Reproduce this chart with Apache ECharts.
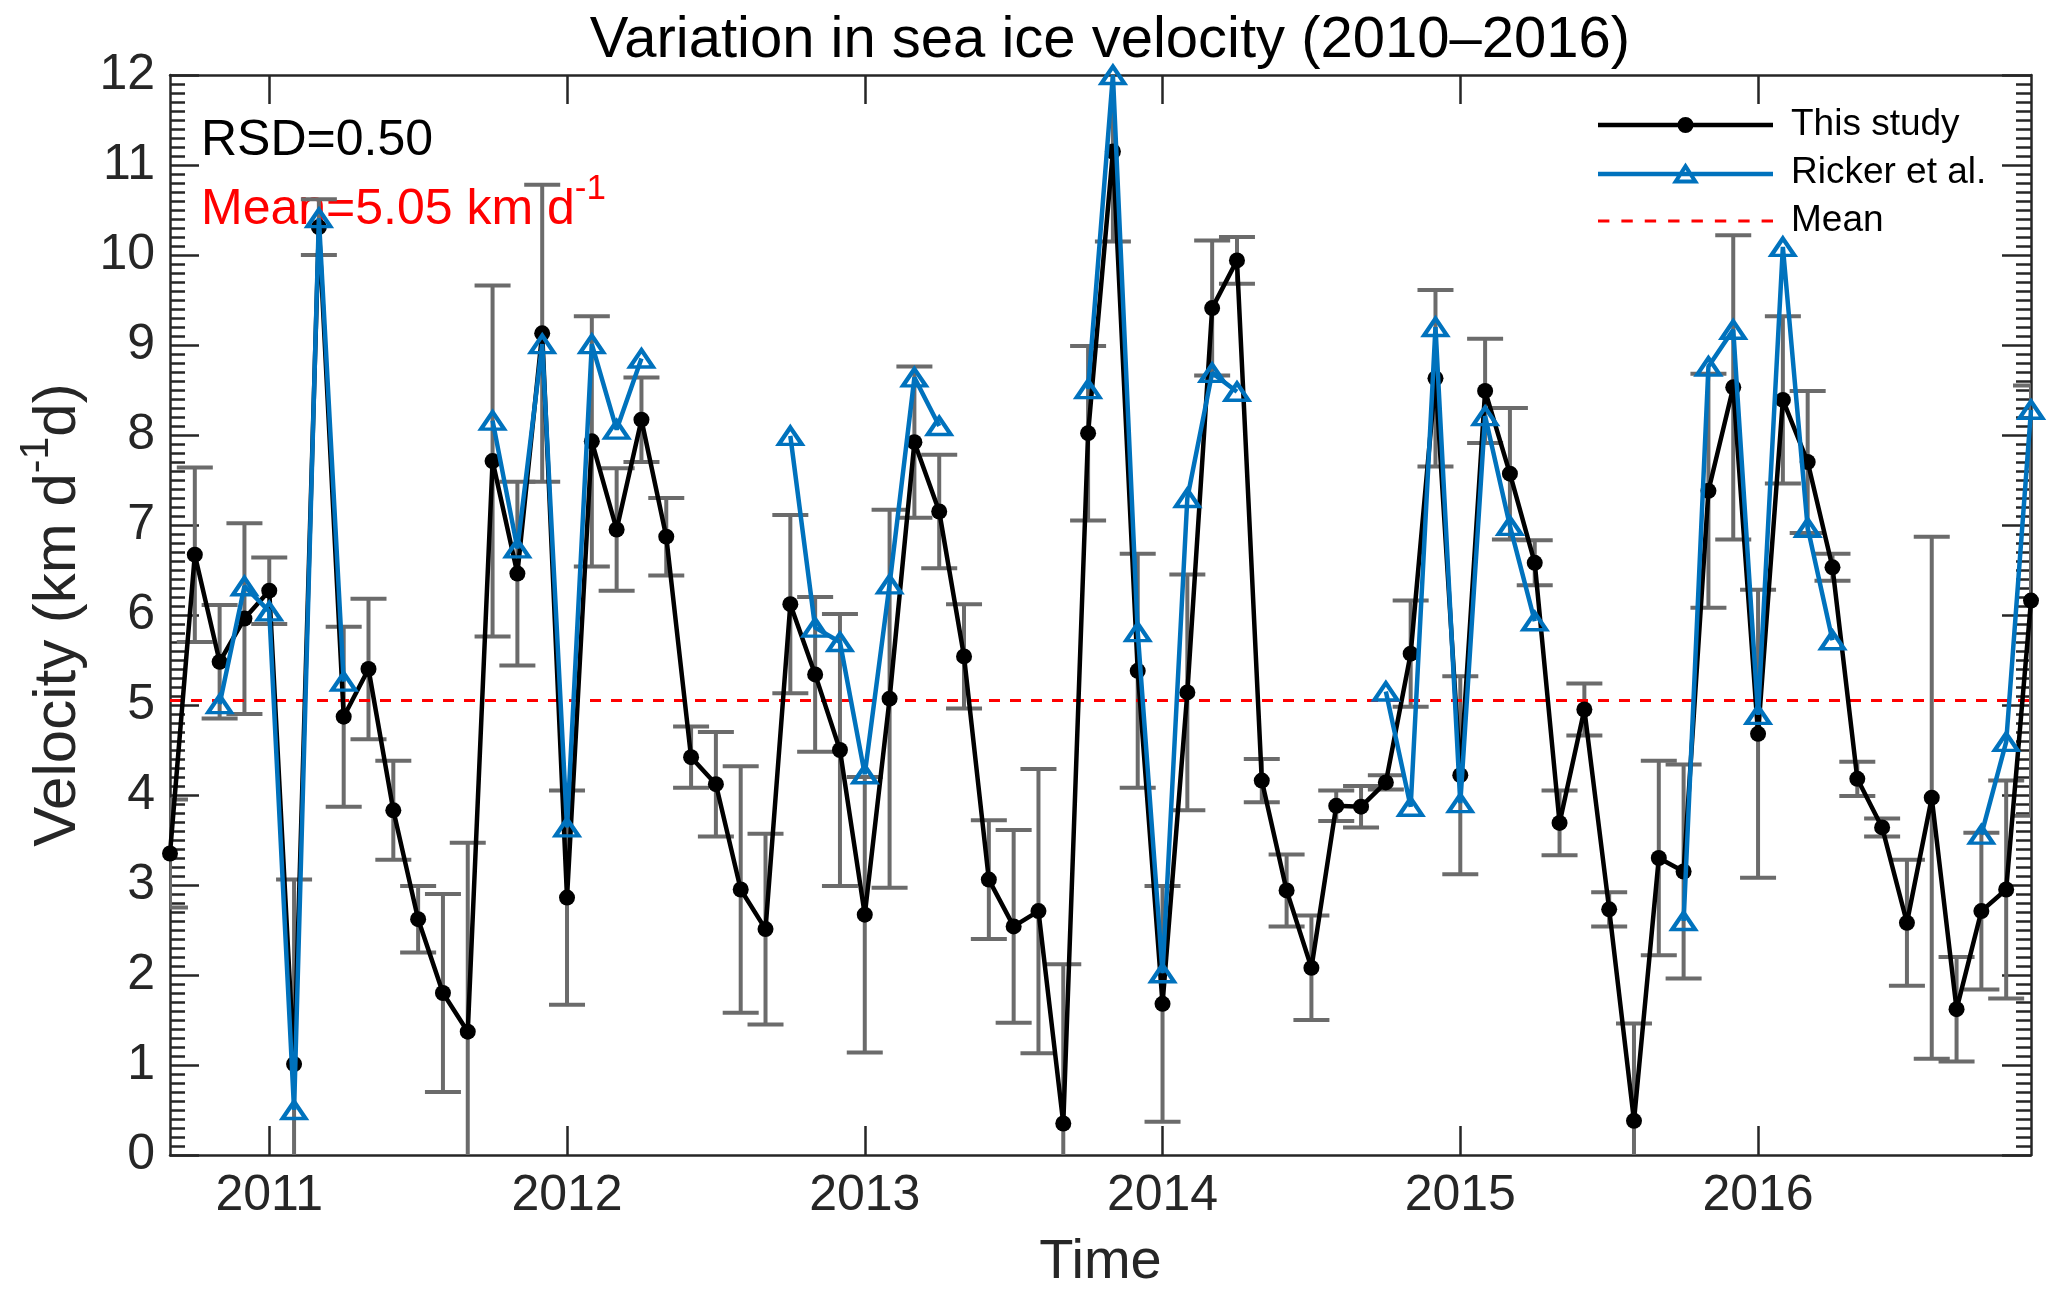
<!DOCTYPE html>
<html>
<head>
<meta charset="utf-8">
<script src="https://cdn.jsdelivr.net/npm/echarts@6/dist/echarts.min.js"></script>
<style>
html,body{margin:0;padding:0;background:#ffffff;}
#chart{width:2067px;height:1302px;}
</style>
</head>
<body>
<div id="chart"></div>
<script>
// ---------------- data ----------------
const months = [
 '2010-09','2010-10','2010-11','2010-12',
 '2011-01','2011-02','2011-03','2011-04','2011-05','2011-06','2011-07','2011-08','2011-09','2011-10','2011-11','2011-12',
 '2012-01','2012-02','2012-03','2012-04','2012-05','2012-06','2012-07','2012-08','2012-09','2012-10','2012-11','2012-12',
 '2013-01','2013-02','2013-03','2013-04','2013-05','2013-06','2013-07','2013-08','2013-09','2013-10','2013-11','2013-12',
 '2014-01','2014-02','2014-03','2014-04','2014-05','2014-06','2014-07','2014-08','2014-09','2014-10','2014-11','2014-12',
 '2015-01','2015-02','2015-03','2015-04','2015-05','2015-06','2015-07','2015-08','2015-09','2015-10','2015-11','2015-12',
 '2016-01','2016-02','2016-03','2016-04','2016-05','2016-06','2016-07','2016-08','2016-09','2016-10','2016-11','2016-12'
];
const thisStudy = [
 3.35,6.67,5.48,5.96,
 6.27,1.01,10.31,4.87,5.40,3.83,2.62,1.80,1.37,7.71,6.46,9.13,
 2.86,7.93,6.95,8.17,6.87,4.42,4.12,2.95,2.51,6.12,5.34,4.50,
 2.67,5.07,7.92,7.15,5.54,3.06,2.54,2.71,0.35,8.02,11.15,5.38,
 1.68,5.14,9.41,9.94,4.16,2.94,2.08,3.88,3.87,4.14,5.57,8.63,
 4.22,8.49,7.57,6.58,3.69,4.95,2.73,0.38,3.30,3.15,7.38,8.53,
 4.68,8.39,7.70,6.53,4.18,3.64,2.58,3.97,1.62,2.71,2.95,6.16
];
const thisStudyErr = [
 0.60,0.97,0.63,1.06,
 0.37,2.05,0.31,1.00,0.78,0.55,0.37,1.10,2.10,1.95,1.02,1.65,
 1.19,1.39,0.68,0.47,0.43,0.34,0.58,1.37,1.06,0.99,0.86,1.51,
 1.53,2.10,0.84,0.63,0.58,0.66,1.07,1.58,1.77,0.97,1.00,1.30,
 1.31,1.31,0.75,0.26,0.24,0.40,0.58,0.17,0.23,0.08,0.59,0.98,
 1.10,0.58,0.73,0.25,0.36,0.29,0.19,1.08,1.08,1.19,1.30,1.69,
 1.60,0.93,0.79,0.15,0.19,0.10,0.70,2.90,0.58,0.87,1.21,2.39
];
const ricker = [
 null,null,5.01,6.32,
 6.04,0.50,10.41,5.26,null,null,null,null,null,8.16,6.74,9.01,
 3.64,9.01,8.06,8.85,null,null,null,null,null,7.99,5.86,5.70,
 4.23,6.34,8.64,8.10,null,null,null,null,null,8.51,12.00,5.81,
 2.02,7.30,8.69,8.48,null,null,null,null,null,5.15,3.87,9.20,
 3.91,8.21,6.99,5.93,null,null,null,null,null,2.60,8.76,9.17,
 4.89,10.09,6.97,5.72,null,null,null,null,null,3.56,4.59,8.28
];
const yearTicks = [2011, 2012, 2013, 2014, 2015, 2016];
const MEAN = 5.05;
const RSD = 0.50;
const seriesNames = ['This study', 'Ricker et al.', 'Mean'];
const titleText = 'Variation in sea ice velocity (2010\u20132016)';

// ---------------- helpers ----------------
const BASE_YEAR = 2010;
function monthIndex(s) {
  const p = s.split('-').map(Number);
  return (p[0] - BASE_YEAR) * 12 + (p[1] - 1);
}
const xs = months.map(monthIndex);
const xMin = xs[0], xMax = xs[xs.length - 1];
const yearPos = yearTicks.map(y => (y - BASE_YEAR) * 12);

const FONT = '"Liberation Sans", Arial, Helvetica, sans-serif';
const AX = '#262626';
const BLUE = '#0072BD';
const GRAY = '#6b6b6b';

// legend icons (style only)
const blackIcon = 'path://M0 5.75H175V10.25H0Z M79.5 8A8 8 0 1 1 95.5 8A8 8 0 1 1 79.5 8Z';
const blueIcon = 'path://M0 9.25H175V13.75H0Z M87.5 0L101 21L74 21Z M87.5 7.4L81.33 17L93.67 17Z';
let meanIcon = 'path://';
for (let k = 0; k < 8; k++) {
  const x0 = (k * 22.57).toFixed(2), x1 = (k * 22.57 + 11).toFixed(2);
  meanIcon += 'M' + x0 + ' 0H' + x1 + 'V3H' + x0 + 'Z ';
}

const chart = echarts.init(document.getElementById('chart'), null, {renderer: 'canvas'});

const axisLineStyle = {color: AX, width: 2.5};

const option = {
  animation: false,
  backgroundColor: '#ffffff',
  textStyle: {fontFamily: FONT},
  grid: {left: 170, right: 36, top: 75, bottom: 147, containLabel: false},
  legend: {
    orient: 'vertical',
    left: 1593,
    top: 101,
    itemWidth: 175,
    itemHeight: 26,
    itemGap: 10,
    selectedMode: false,
    textStyle: {fontSize: 37, color: '#000', fontFamily: FONT, lineHeight: 38, padding: [0, 0, 0, 13]},
    data: [
      {name: seriesNames[0], icon: blackIcon, itemStyle: {color: '#000000', borderWidth: 0}},
      {name: seriesNames[1], icon: blueIcon, itemStyle: {color: BLUE, borderWidth: 0}},
      {name: seriesNames[2], icon: meanIcon, itemStyle: {color: '#FF0000', borderWidth: 0}}
    ]
  },
  graphic: [
    {type: 'text', x: 1110, y: 41, silent: true,
     style: {text: titleText, fontSize: 58, fill: '#000', fontFamily: FONT, align: 'center', verticalAlign: 'middle'}},
    {type: 'text', left: 201, top: 116, silent: true,
     style: {text: 'RSD=' + RSD.toFixed(2), fontSize: 50, fill: '#000', fontFamily: FONT}},
    {type: 'text', left: 201, top: 172, silent: true,
     style: {
       text: '{a|Mean=' + MEAN.toFixed(2) + ' km d}{s|-1}',
       rich: {
         a: {fontSize: 50, lineHeight: 76, fill: '#FF0000', fontFamily: FONT},
         s: {fontSize: 35, lineHeight: 35, verticalAlign: 'top', fill: '#FF0000', fontFamily: FONT}
       }
     }}
  ],
  xAxis: [
    {
      type: 'value', min: xMin, max: xMax, position: 'bottom',
      axisLine: {show: true, onZero: false, lineStyle: axisLineStyle},
      axisTick: {show: true, inside: true, length: 29, lineStyle: axisLineStyle, customValues: yearPos},
      axisLabel: {show: true, customValues: yearPos, fontSize: 50, color: AX, fontFamily: FONT, margin: 16,
                  formatter: v => String(BASE_YEAR + Math.round(v / 12))},
      splitLine: {show: false},
      name: 'Time', nameLocation: 'middle', nameGap: 80,
      nameTextStyle: {fontSize: 56, color: AX, fontFamily: FONT}
    },
    {
      type: 'value', min: xMin, max: xMax, position: 'top',
      axisLine: {show: true, onZero: false, lineStyle: axisLineStyle},
      axisTick: {show: true, inside: true, length: 29, lineStyle: axisLineStyle, customValues: yearPos},
      axisLabel: {show: false},
      splitLine: {show: false}
    }
  ],
  yAxis: [
    {
      type: 'value', min: 0, max: 12, interval: 1, position: 'left',
      axisLine: {show: true, onZero: false, lineStyle: axisLineStyle},
      axisTick: {show: true, inside: true, length: 29, lineStyle: axisLineStyle},
      minorTick: {show: true, splitNumber: 10, length: 15, lineStyle: axisLineStyle},
      axisLabel: {fontSize: 50, color: AX, fontFamily: FONT, margin: 15},
      splitLine: {show: false},
      minorSplitLine: {show: false},
      name: '{a|Velocity (km d}{s|-1}{a|d)}',
      nameLocation: 'middle', nameRotate: 90, nameGap: 68,
      nameTextStyle: {
        color: AX,
        rich: {
          a: {fontSize: 60, lineHeight: 84, color: AX, fontFamily: FONT},
          s: {fontSize: 41, lineHeight: 41, verticalAlign: 'top', color: AX, fontFamily: FONT}
        }
      }
    },
    {
      type: 'value', min: 0, max: 12, interval: 1, position: 'right',
      axisLine: {show: true, onZero: false, lineStyle: axisLineStyle},
      axisTick: {show: true, inside: true, length: 29, lineStyle: axisLineStyle},
      minorTick: {show: true, splitNumber: 10, length: 15, lineStyle: axisLineStyle},
      axisLabel: {show: false},
      splitLine: {show: false},
      minorSplitLine: {show: false}
    }
  ],
  series: [
    {
      type: 'custom',
      name: 'errorbars',
      xAxisIndex: 0, yAxisIndex: 0,
      clip: true,
      silent: true,
      z: 2,
      data: xs.map((x, i) => [x, thisStudy[i] - thisStudyErr[i], thisStudy[i] + thisStudyErr[i]]),
      encode: {x: 0, y: [1, 2]},
      renderItem: function (params, api) {
        const x = api.value(0), lo = api.value(1), hi = api.value(2);
        const pLo = api.coord([x, lo]);
        const pHi = api.coord([x, hi]);
        const hw = 18;
        const st = {stroke: GRAY, lineWidth: 4, fill: null};
        return {
          type: 'group',
          children: [
            {type: 'line', shape: {x1: pLo[0], y1: pLo[1], x2: pHi[0], y2: pHi[1]}, style: st},
            {type: 'line', shape: {x1: pLo[0] - hw, y1: pLo[1], x2: pLo[0] + hw, y2: pLo[1]}, style: st},
            {type: 'line', shape: {x1: pHi[0] - hw, y1: pHi[1], x2: pHi[0] + hw, y2: pHi[1]}, style: st}
          ]
        };
      }
    },
    {
      type: 'line',
      name: seriesNames[0],
      xAxisIndex: 0, yAxisIndex: 0,
      data: xs.map((x, i) => [x, thisStudy[i]]),
      symbol: 'circle', symbolSize: 16, showAllSymbol: true,
      clip: false,
      lineStyle: {color: '#000000', width: 4.5},
      itemStyle: {color: '#000000', borderWidth: 0},
      z: 4
    },
    {
      type: 'line',
      name: seriesNames[1],
      xAxisIndex: 0, yAxisIndex: 0,
      data: xs.map((x, i) => [x, ricker[i] === null ? '-' : ricker[i]]),
      connectNulls: false,
      symbol: 'triangle', symbolSize: [23, 17], showAllSymbol: true,
      clip: false,
      lineStyle: {color: BLUE, width: 4.5},
      itemStyle: {color: 'rgba(0,0,0,0)', borderColor: BLUE, borderWidth: 4},
      z: 5
    },
    {
      type: 'line',
      name: seriesNames[2],
      xAxisIndex: 0, yAxisIndex: 0,
      data: [[xMin, MEAN], [xMax, MEAN]],
      symbol: 'none',
      lineStyle: {color: '#FF0000', width: 3, type: [11, 10]},
      itemStyle: {color: '#FF0000'},
      z: 3
    }
  ]
};
chart.setOption(option);
</script>
</body>
</html>
